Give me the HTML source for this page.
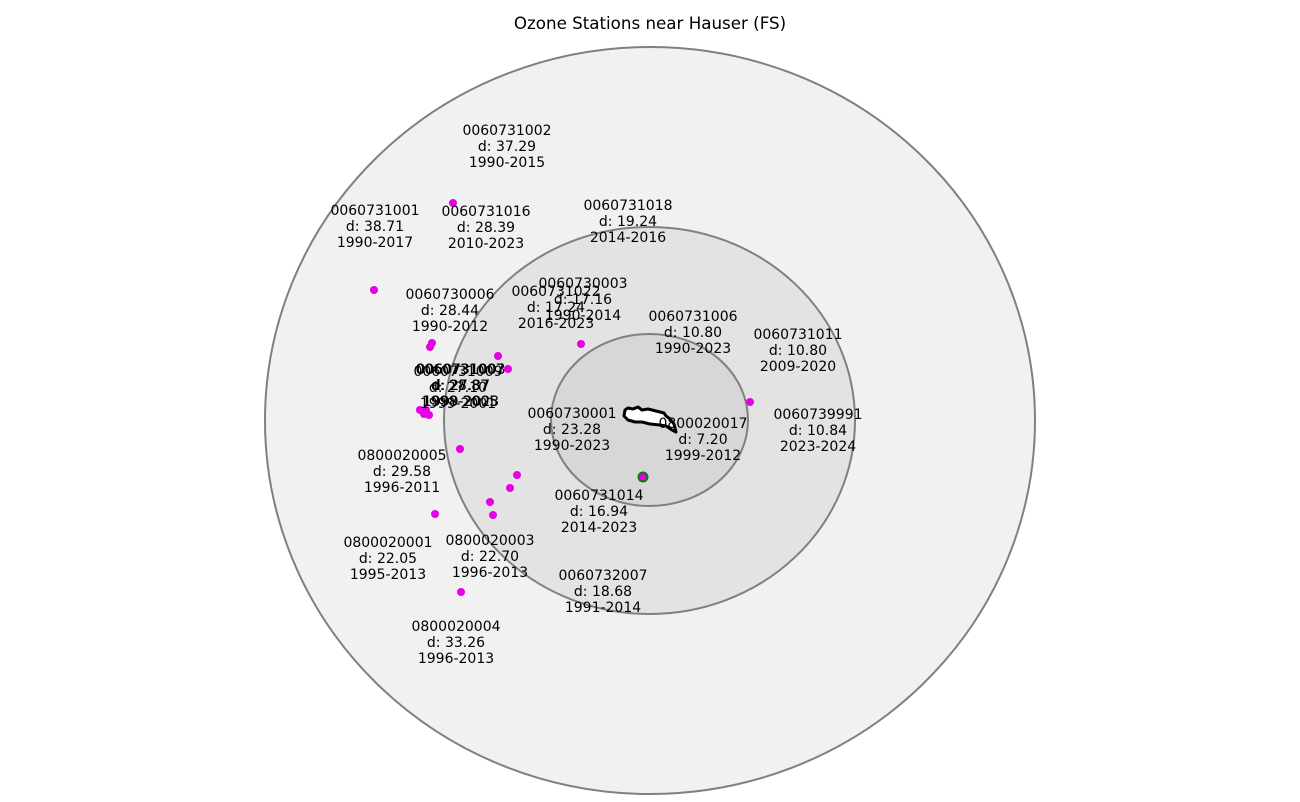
<!DOCTYPE html>
<html><head><meta charset="utf-8"><style>
html,body{margin:0;padding:0;background:#fff;}
svg{display:block;}
text{font-family:"DejaVu Sans","Liberation Sans",sans-serif;font-size:14px;fill:#000;text-anchor:middle;}
</style></head><body>
<svg width="1300" height="802" viewBox="0 0 1300 802" xmlns="http://www.w3.org/2000/svg">
<text x="650" y="29" style="font-size:16.7px">Ozone Stations near Hauser (FS)</text>
<ellipse cx="650" cy="420.5" rx="385" ry="373.5" fill="#f1f1f1" stroke="#808080" stroke-width="2"/>
<ellipse cx="649.5" cy="420.5" rx="205.5" ry="193.5" fill="#e3e3e3" stroke="#808080" stroke-width="2"/>
<ellipse cx="649.5" cy="420" rx="98.5" ry="86" fill="#d7d7d7" stroke="#808080" stroke-width="2"/>
<path d="M625,410 L628,408 L633,409 L638,407 L642,410 L648,409 L656,411 L664,413 L666,416 L670,419 L674,424 L676,432 L672,430 L666,426 L660,425 L650,424 L642,422 L635,422 L628,420 L624,416 Z" fill="#fff" stroke="#000" stroke-width="3" stroke-linejoin="round"/>
<g fill="#e600e6">
<circle cx="453" cy="203" r="4"/><circle cx="374" cy="290" r="4"/><circle cx="432" cy="343" r="4"/><circle cx="430" cy="347" r="4"/>
<circle cx="498" cy="356" r="4"/><circle cx="508" cy="369" r="4"/><circle cx="581" cy="344" r="4"/>
<circle cx="420" cy="410" r="4"/><circle cx="424" cy="414" r="4"/><circle cx="429" cy="415" r="4"/><circle cx="426" cy="410" r="4"/>
<circle cx="750" cy="402" r="4"/><circle cx="460" cy="449" r="4"/><circle cx="517" cy="475" r="4"/><circle cx="510" cy="488" r="4"/>
<circle cx="490" cy="502" r="4"/><circle cx="493" cy="515" r="4"/><circle cx="435" cy="514" r="4"/><circle cx="461" cy="592" r="4"/>
</g>
<circle cx="643" cy="477" r="4.5" fill="#e600e6" stroke="#008000" stroke-width="2"/>
<g>
<text x="507" y="135">0060731002<tspan x="507" dy="16">d: 37.29</tspan><tspan x="507" dy="16">1990-2015</tspan></text>
<text x="375" y="215">0060731001<tspan x="375" dy="16">d: 38.71</tspan><tspan x="375" dy="16">1990-2017</tspan></text>
<text x="486" y="216">0060731016<tspan x="486" dy="16">d: 28.39</tspan><tspan x="486" dy="16">2010-2023</tspan></text>
<text x="628" y="210">0060731018<tspan x="628" dy="16">d: 19.24</tspan><tspan x="628" dy="16">2014-2016</tspan></text>
<text x="583" y="288">0060730003<tspan x="583" dy="16">d: 17.16</tspan><tspan x="583" dy="16">1990-2014</tspan></text>
<text x="556" y="296">0060731022<tspan x="556" dy="16">d: 17.24</tspan><tspan x="556" dy="16">2016-2023</tspan></text>
<text x="450" y="299">0060730006<tspan x="450" dy="16">d: 28.44</tspan><tspan x="450" dy="16">1990-2012</tspan></text>
<text x="693" y="321">0060731006<tspan x="693" dy="16">d: 10.80</tspan><tspan x="693" dy="16">1990-2023</tspan></text>
<text x="798" y="339">0060731011<tspan x="798" dy="16">d: 10.80</tspan><tspan x="798" dy="16">2009-2020</tspan></text>
<text x="460" y="374">0060731007<tspan x="460" dy="16">d: 28.87</tspan><tspan x="460" dy="16">1998-2005</tspan></text>
<text x="458" y="376">0060731009<tspan x="458" dy="16">d: 27.10</tspan><tspan x="458" dy="16">1999-2001</tspan></text>
<text x="461" y="374">0060731003<tspan x="461" dy="16">d: 27.37</tspan><tspan x="461" dy="16">1999-2023</tspan></text>
<text x="572" y="418">0060730001<tspan x="572" dy="16">d: 23.28</tspan><tspan x="572" dy="16">1990-2023</tspan></text>
<text x="703" y="428">0800020017<tspan x="703" dy="16">d: 7.20</tspan><tspan x="703" dy="16">1999-2012</tspan></text>
<text x="818" y="419">0060739991<tspan x="818" dy="16">d: 10.84</tspan><tspan x="818" dy="16">2023-2024</tspan></text>
<text x="402" y="460">0800020005<tspan x="402" dy="16">d: 29.58</tspan><tspan x="402" dy="16">1996-2011</tspan></text>
<text x="599" y="500">0060731014<tspan x="599" dy="16">d: 16.94</tspan><tspan x="599" dy="16">2014-2023</tspan></text>
<text x="388" y="547">0800020001<tspan x="388" dy="16">d: 22.05</tspan><tspan x="388" dy="16">1995-2013</tspan></text>
<text x="490" y="545">0800020003<tspan x="490" dy="16">d: 22.70</tspan><tspan x="490" dy="16">1996-2013</tspan></text>
<text x="603" y="580">0060732007<tspan x="603" dy="16">d: 18.68</tspan><tspan x="603" dy="16">1991-2014</tspan></text>
<text x="456" y="631">0800020004<tspan x="456" dy="16">d: 33.26</tspan><tspan x="456" dy="16">1996-2013</tspan></text>
</g>
</svg>
</body></html>
